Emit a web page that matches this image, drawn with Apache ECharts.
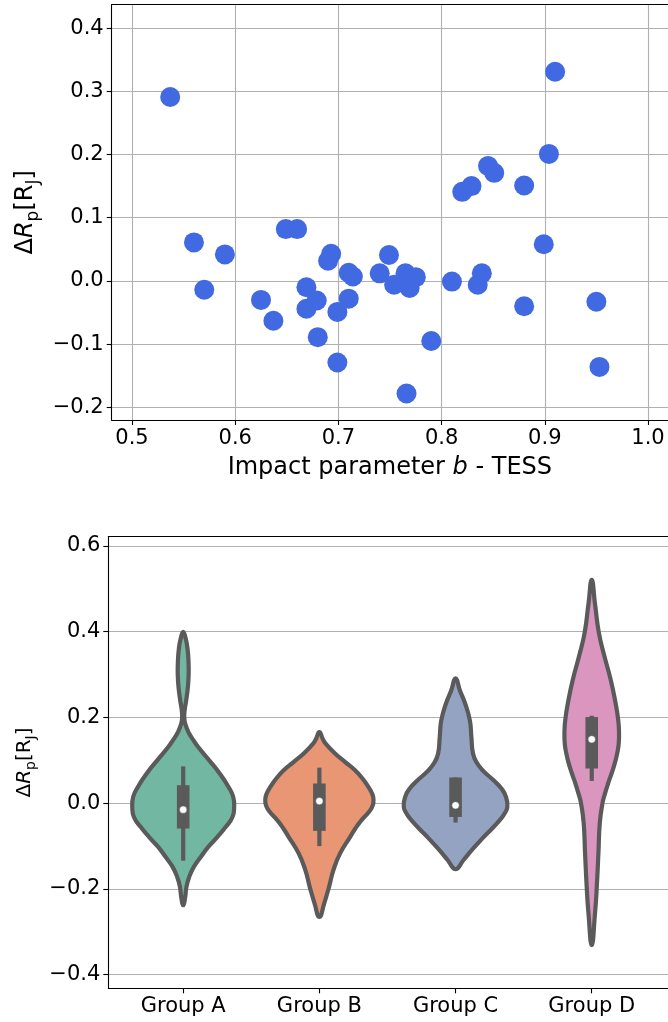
<!DOCTYPE html>
<html><head><meta charset="utf-8">
<script src="https://cdn.jsdelivr.net/npm/echarts@6/dist/echarts.min.js"></script>
<style>html,body{margin:0;padding:0;background:#fff}#c{width:668px;height:1022px}</style>
</head><body><div id="c"></div>
<script>
// ---- Top panel: scatter ----
const impactB = [0.537,0.560,0.570,0.590,0.625,0.637,0.649,0.660,0.669,0.669,0.679,0.680,0.699,0.699,0.693,0.690,0.710,0.714,0.710,0.740,0.749,0.754,0.765,0.769,0.775,0.766,0.790,0.810,0.820,0.829,0.835,0.839,0.845,0.851,0.880,0.880,0.899,0.904,0.910,0.950,0.953];
const deltaRp = [0.291,0.061,-0.014,0.042,-0.030,-0.063,0.082,0.082,-0.010,-0.044,-0.031,-0.089,-0.129,-0.049,0.043,0.032,0.013,0.007,-0.028,0.012,0.041,-0.006,0.012,-0.011,0.006,-0.178,-0.095,-0.001,0.141,0.150,-0.006,0.012,0.182,0.171,0.151,-0.040,0.058,0.201,0.331,-0.033,-0.136];
const xTicksTop = [0.5,0.6,0.7,0.8,0.9,1.0];
const yTicksTop = [-0.2,-0.1,0.0,0.1,0.2,0.3,0.4];

// ---- Bottom panel: violins ----
const groups = ['Group A','Group B','Group C','Group D'];
const yTicksBottom = [-0.4,-0.2,0.0,0.2,0.4,0.6];
// outline: [value, half-width in category units], from top tip to bottom tip
const violinA = [[0.400,0],[0.385,0.018],[0.360,0.032],[0.330,0.039],[0.300,0.040],[0.270,0.034],[0.240,0.022],[0.215,0.010],[0.200,0.008],[0.185,0.015],[0.165,0.040],[0.147,0.075],[0.131,0.110],[0.100,0.191],[0.069,0.269],[0.038,0.333],[0.015,0.367],[-0.009,0.374],[-0.032,0.362],[-0.055,0.313],[-0.079,0.250],[-0.102,0.184],[-0.125,0.130],[-0.148,0.079],[-0.172,0.044],[-0.195,0.024],[-0.220,0.014],[-0.238,0]];
const violinB = [[0.166,0],[0.150,0.025],[0.139,0.046],[0.116,0.115],[0.096,0.190],[0.077,0.262],[0.057,0.318],[0.038,0.360],[0.024,0.385],[0.010,0.397],[-0.005,0.392],[-0.020,0.365],[-0.040,0.308],[-0.060,0.262],[-0.079,0.225],[-0.117,0.152],[-0.156,0.103],[-0.195,0.071],[-0.234,0.035],[-0.265,0]];
const violinC = [[0.291,0],[0.263,0.032],[0.232,0.071],[0.193,0.105],[0.155,0.116],[0.116,0.128],[0.095,0.155],[0.075,0.205],[0.054,0.277],[0.035,0.335],[0.015,0.370],[-0.009,0.380],[-0.025,0.358],[-0.040,0.323],[-0.060,0.265],[-0.079,0.206],[-0.095,0.160],[-0.110,0.117],[-0.133,0.057],[-0.154,0]];
const violinD = [[0.521,0],[0.465,0.024],[0.400,0.051],[0.349,0.088],[0.287,0.140],[0.232,0.176],[0.200,0.192],[0.170,0.200],[0.139,0.198],[0.115,0.186],[0.093,0.169],[0.070,0.146],[0.046,0.120],[0.020,0.095],[0.000,0.079],[-0.047,0.059],[-0.117,0.049],[-0.195,0.037],[-0.257,0.024],[-0.331,0]];
const medians = [-0.015,0.005,-0.005,0.149];
const q1 = [-0.059,-0.0645,-0.032,0.081];
const q3 = [0.042,0.046,0.060,0.201];
const whiskerLow = [-0.134,-0.100,-0.045,0.052];
const whiskerHigh = [0.086,0.083,0.060,0.204];

const violins = [violinA, violinB, violinC, violinD];
const fills = ['#72b7a1','#e99675','#95a3c3','#db96c0'];
const gray = '#5a5a5a';
const FONT = 'DejaVu Sans';

const fmt = v => {
  const a = Math.abs(v).toFixed(1);
  return (v < -1e-9 ? '\u2212' : '') + a;
};

const chart = echarts.init(document.getElementById('c'), null, {renderer:'canvas'});

const ylabelRich = (fs, sfs) => ({
  n:{fontFamily:FONT,fontSize:fs,color:'#000',lineHeight:fs+8,verticalAlign:'middle'},
  i:{fontFamily:FONT,fontSize:fs,color:'#000',fontStyle:'italic',lineHeight:fs+8,verticalAlign:'middle'},
  s:{fontFamily:FONT,fontSize:sfs,color:'#000',lineHeight:sfs,verticalAlign:'bottom'}
});
const ylabelText = '{n|\u0394}{i|R}{s|p}{n|[R}{s|J}{n|]}';
const TS = 21;

const option = {
  backgroundColor:'#fff',
  animation:false,
  grid:[
    {left:111.7, right:0, top:4.7, bottom:602},
    {left:108.3, right:0, top:536.7, bottom:33.7}
  ],
  xAxis:[
    {type:'value', gridIndex:0, min:0.4803, max:1.0194,
     axisLine:{show:true,onZero:false,lineStyle:{color:'#000',width:1.1}},
     axisTick:{show:true,length:5,lineStyle:{color:'#000',width:1.1},customValues:xTicksTop},
     axisLabel:{show:true,customValues:xTicksTop,formatter:fmt,fontFamily:FONT,fontSize:TS,color:'#000',margin:8},
     splitLine:{show:true,lineStyle:{color:'#b0b0b0',width:1.1}},
     name:'{n|Impact parameter }{i|b}{n| - TESS}', nameLocation:'middle', nameGap:36,
     nameTextStyle:{rich:{n:{fontFamily:FONT,fontSize:24,color:'#000'},i:{fontFamily:FONT,fontSize:24,color:'#000',fontStyle:'italic'}}}
    },
    {type:'value', gridIndex:0, position:'top', min:0.4803, max:1.0194,
     axisLine:{show:true,onZero:false,lineStyle:{color:'#000',width:1.1}},
     axisTick:{show:false},axisLabel:{show:false},splitLine:{show:false}},
    {type:'value', gridIndex:1, min:-0.55, max:3.56,
     axisLine:{show:true,onZero:false,lineStyle:{color:'#000',width:1.1}},
     axisTick:{show:true,length:5,lineStyle:{color:'#000',width:1.1},customValues:[0,1,2,3]},
     axisLabel:{show:true,customValues:[0,1,2,3],formatter:v=>groups[Math.round(v)],fontFamily:FONT,fontSize:TS,color:'#000',margin:8},
     splitLine:{show:false}},
    {type:'value', gridIndex:1, position:'top', min:-0.55, max:3.56,
     axisLine:{show:true,onZero:false,lineStyle:{color:'#000',width:1.1}},
     axisTick:{show:false},axisLabel:{show:false},splitLine:{show:false}}
  ],
  yAxis:[
    {type:'value', gridIndex:0, min:-0.22, max:0.437,
     axisLine:{show:true,onZero:false,lineStyle:{color:'#000',width:1.1}},
     axisTick:{show:true,length:5,lineStyle:{color:'#000',width:1.1},customValues:yTicksTop},
     axisLabel:{show:true,customValues:yTicksTop,formatter:fmt,fontFamily:FONT,fontSize:TS,color:'#000',margin:8},
     splitLine:{show:true,lineStyle:{color:'#b0b0b0',width:1.1}},
     name:ylabelText, nameLocation:'middle', nameRotate:90, nameGap:64,
     nameTextStyle:{rich:ylabelRich(24,17)}
    },
    {type:'value', gridIndex:1, min:-0.4317, max:0.6217,
     axisLine:{show:true,onZero:false,lineStyle:{color:'#000',width:1.1}},
     axisTick:{show:true,length:5,lineStyle:{color:'#000',width:1.1},customValues:yTicksBottom},
     axisLabel:{show:true,customValues:yTicksBottom,formatter:fmt,fontFamily:FONT,fontSize:TS,color:'#000',margin:8},
     splitLine:{show:true,lineStyle:{color:'#b0b0b0',width:1.1}},
     name:ylabelText, nameLocation:'middle', nameRotate:90, nameGap:68,
     nameTextStyle:{rich:ylabelRich(20,14)}
    }
  ],
  series:[
    {type:'scatter', xAxisIndex:0, yAxisIndex:0,
     data: impactB.map((x,i)=>[x, deltaRp[i]]),
     symbol:'circle', symbolSize:20,
     itemStyle:{color:'#4169e1', opacity:1},
     emphasis:{disabled:true}},
    {type:'custom', xAxisIndex:2, yAxisIndex:1,
     data: groups.map((g,i)=>[i]),
     renderItem:function(params, api){
       const i = api.value(0);
       const pts = violins[i];
       const right = pts.map(p => api.coord([i + p[1], p[0]]));
       const left = pts.slice(1, pts.length-1).reverse().map(p => api.coord([i - p[1], p[0]]));
       const poly = right.concat(left);
       const c = api.coord([i, 0])[0];
       const top = api.coord([i, q3[i]])[1];
       const bot = api.coord([i, q1[i]])[1];
       const wHi = api.coord([i, whiskerHigh[i]])[1];
       const wLo = api.coord([i, whiskerLow[i]])[1];
       const med = api.coord([i, medians[i]])[1];
       return {type:'group', children:[
         {type:'polygon', shape:{points:poly, smooth:0.5},
          style:{fill:fills[i], stroke:gray, lineWidth:4.2, lineJoin:'round'}},
         {type:'line', shape:{x1:c,y1:wHi,x2:c,y2:wLo},
          style:{stroke:gray, lineWidth:4.2, lineCap:'butt'}},
         {type:'rect', shape:{x:c-6.3, y:top, width:12.6, height:bot-top},
          style:{fill:gray}},
         {type:'circle', shape:{cx:c, cy:med, r:3.7},
          style:{fill:'#fff', stroke:gray, lineWidth:0.5}}
       ]};
     }}
  ]
};
chart.setOption(option);
</script></body></html>
